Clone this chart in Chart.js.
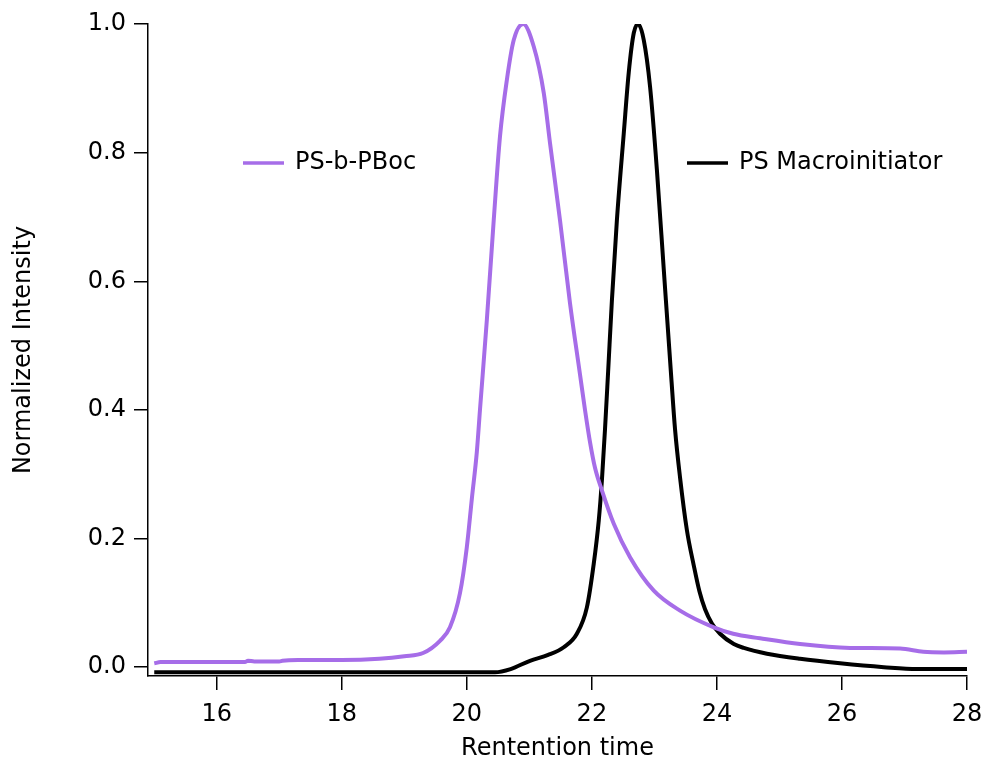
<!DOCTYPE html>
<html>
<head>
<meta charset="utf-8">
<script src="https://cdn.jsdelivr.net/npm/chart.js@4.4.1/dist/chart.umd.min.js"></script>
<style>
  html, body { margin: 0; padding: 0; background: #fff; }
  #wrap { width: 987px; height: 761px; }
</style>
</head>
<body>
<div id="wrap"><canvas id="gpc" width="987" height="761"></canvas></div>
<script>
/* =====================
   DATA
===================== */
const seriesNames = ["PS-b-PBoc", "PS Macroinitiator"];

const pbocTime = [15.0, 15.1, 16.0, 16.45, 16.5, 16.6, 17.0, 17.05, 17.3, 18.0, 18.6, 19.0, 19.3,
  19.57, 19.73, 19.89, 20.0, 20.08, 20.16, 20.21, 20.32, 20.43, 20.53, 20.64, 20.75, 20.9,
  21.07, 21.23, 21.33, 21.49, 21.65, 21.81, 21.89, 21.97, 22.05, 22.16, 22.35, 22.61, 22.99, 23.41, 23.95,
  24.26, 24.69, 25.33, 26.13, 26.93, 27.3, 27.63, 28.0];
const pbocInt = [0.006, 0.008, 0.008, 0.008, 0.010, 0.009, 0.009, 0.010, 0.011, 0.011, 0.013, 0.017, 0.022,
  0.041, 0.062, 0.115, 0.187, 0.262, 0.335, 0.40, 0.54, 0.695, 0.825, 0.913, 0.975, 1.0,
  0.965, 0.893, 0.815, 0.695, 0.566, 0.455, 0.40, 0.35, 0.31, 0.275, 0.223, 0.171, 0.119, 0.088, 0.062,
  0.052, 0.045, 0.036, 0.030, 0.029, 0.024, 0.023, 0.024];

const macroTime = [15.0, 20.45, 20.7, 21.01, 21.3, 21.55, 21.76, 21.92, 22.03, 22.11, 22.16, 22.21,
  22.26, 22.32, 22.4, 22.51, 22.59, 22.67, 22.74, 22.83, 22.93, 23.04, 23.15, 23.27, 23.33, 23.41,
  23.52, 23.63, 23.72, 23.81, 23.92, 24.05, 24.27, 24.43, 24.8, 25.33, 25.97, 26.67, 27.2, 28.0];
const macroInt = [-0.008, -0.008, -0.003, 0.010, 0.019, 0.031, 0.052, 0.093, 0.161, 0.228, 0.29, 0.37,
  0.46, 0.57, 0.695, 0.83, 0.925, 0.986, 1.0, 0.975, 0.903, 0.773, 0.618, 0.45, 0.37, 0.295,
  0.213, 0.158, 0.118, 0.09, 0.068, 0.052, 0.036, 0.030, 0.021, 0.013, 0.006, 0.0, -0.003, -0.003];

const xTicks = [16, 18, 20, 22, 24, 26, 28];
const yTicks = [0.0, 0.2, 0.4, 0.6, 0.8, 1.0];

/* =====================
   STYLE
===================== */
const FONT = "'DejaVu Sans', sans-serif";
const colors = ["#a66de8", "#000000"];
const legendAt = [{ x: 243, y: 163 }, { x: 687, y: 163 }];

const toPoints = (xs, ys) => xs.map((x, i) => ({ x, y: ys[i] }));

// legend sits inside the plot, one entry per trace
const inlineLegend = {
  id: "inlineLegend",
  afterDatasetsDraw(chart) {
    const ctx = chart.ctx;
    chart.data.datasets.forEach((ds, i) => {
      const p = legendAt[i];
      ctx.save();
      ctx.strokeStyle = ds.borderColor;
      ctx.lineWidth = 3.5;
      ctx.beginPath();
      ctx.moveTo(p.x, p.y);
      ctx.lineTo(p.x + 41, p.y);
      ctx.stroke();
      ctx.fillStyle = "#000";
      ctx.font = "24px " + FONT;
      ctx.textBaseline = "middle";
      ctx.fillText(ds.label, p.x + 52, p.y);
      ctx.restore();
    });
  }
};

const axisLook = {
  grid: { drawOnChartArea: false, drawTicks: true, tickLength: 14, color: "#000", lineWidth: 1.5 },
  border: { color: "#000", width: 1.5 }
};

new Chart(document.getElementById("gpc"), {
  type: "line",
  data: {
    datasets: [
      {
        label: seriesNames[0],
        data: toPoints(pbocTime, pbocInt),
        borderColor: colors[0],
        borderWidth: 4,
        pointRadius: 0,
        cubicInterpolationMode: "monotone"
      },
      {
        label: seriesNames[1],
        data: toPoints(macroTime, macroInt),
        borderColor: colors[1],
        borderWidth: 4,
        pointRadius: 0,
        cubicInterpolationMode: "monotone"
      }
    ]
  },
  options: {
    responsive: false,
    animation: false,
    devicePixelRatio: 1,
    layout: { padding: { top: 24, right: 20, left: 0, bottom: 0 } },
    plugins: { legend: { display: false }, tooltip: { enabled: false } },
    scales: {
      x: {
        type: "linear",
        min: 14.9,
        max: 28,
        afterBuildTicks: s => { s.ticks = xTicks.map(v => ({ value: v })); },
        afterFit: s => { s.height = 85; s.paddingLeft = 0; s.paddingRight = 0; },
        ...axisLook,
        ticks: { color: "#000", font: { family: FONT, size: 24 }, padding: 10, maxRotation: 0, autoSkip: false },
        title: {
          display: true, text: "Rentention time", color: "#000",
          font: { family: FONT, size: 24, lineHeight: 1 }, padding: { top: 0, bottom: 0 }
        }
      },
      y: {
        type: "linear",
        min: -0.0137,
        max: 1.0,
        afterBuildTicks: s => { s.ticks = yTicks.map(v => ({ value: v })); },
        afterFit: s => { s.width = 148; s.paddingTop = 0; s.paddingBottom = 0; },
        ...axisLook,
        ticks: { color: "#000", font: { family: FONT, size: 24 }, padding: 8, callback: v => v.toFixed(1) },
        title: {
          display: true, text: "Normalized Intensity", color: "#000",
          font: { family: FONT, size: 24, lineHeight: 1 }, padding: { top: 12, bottom: 0 }
        }
      }
    }
  },
  plugins: [inlineLegend]
});
</script>
</body>
</html>
